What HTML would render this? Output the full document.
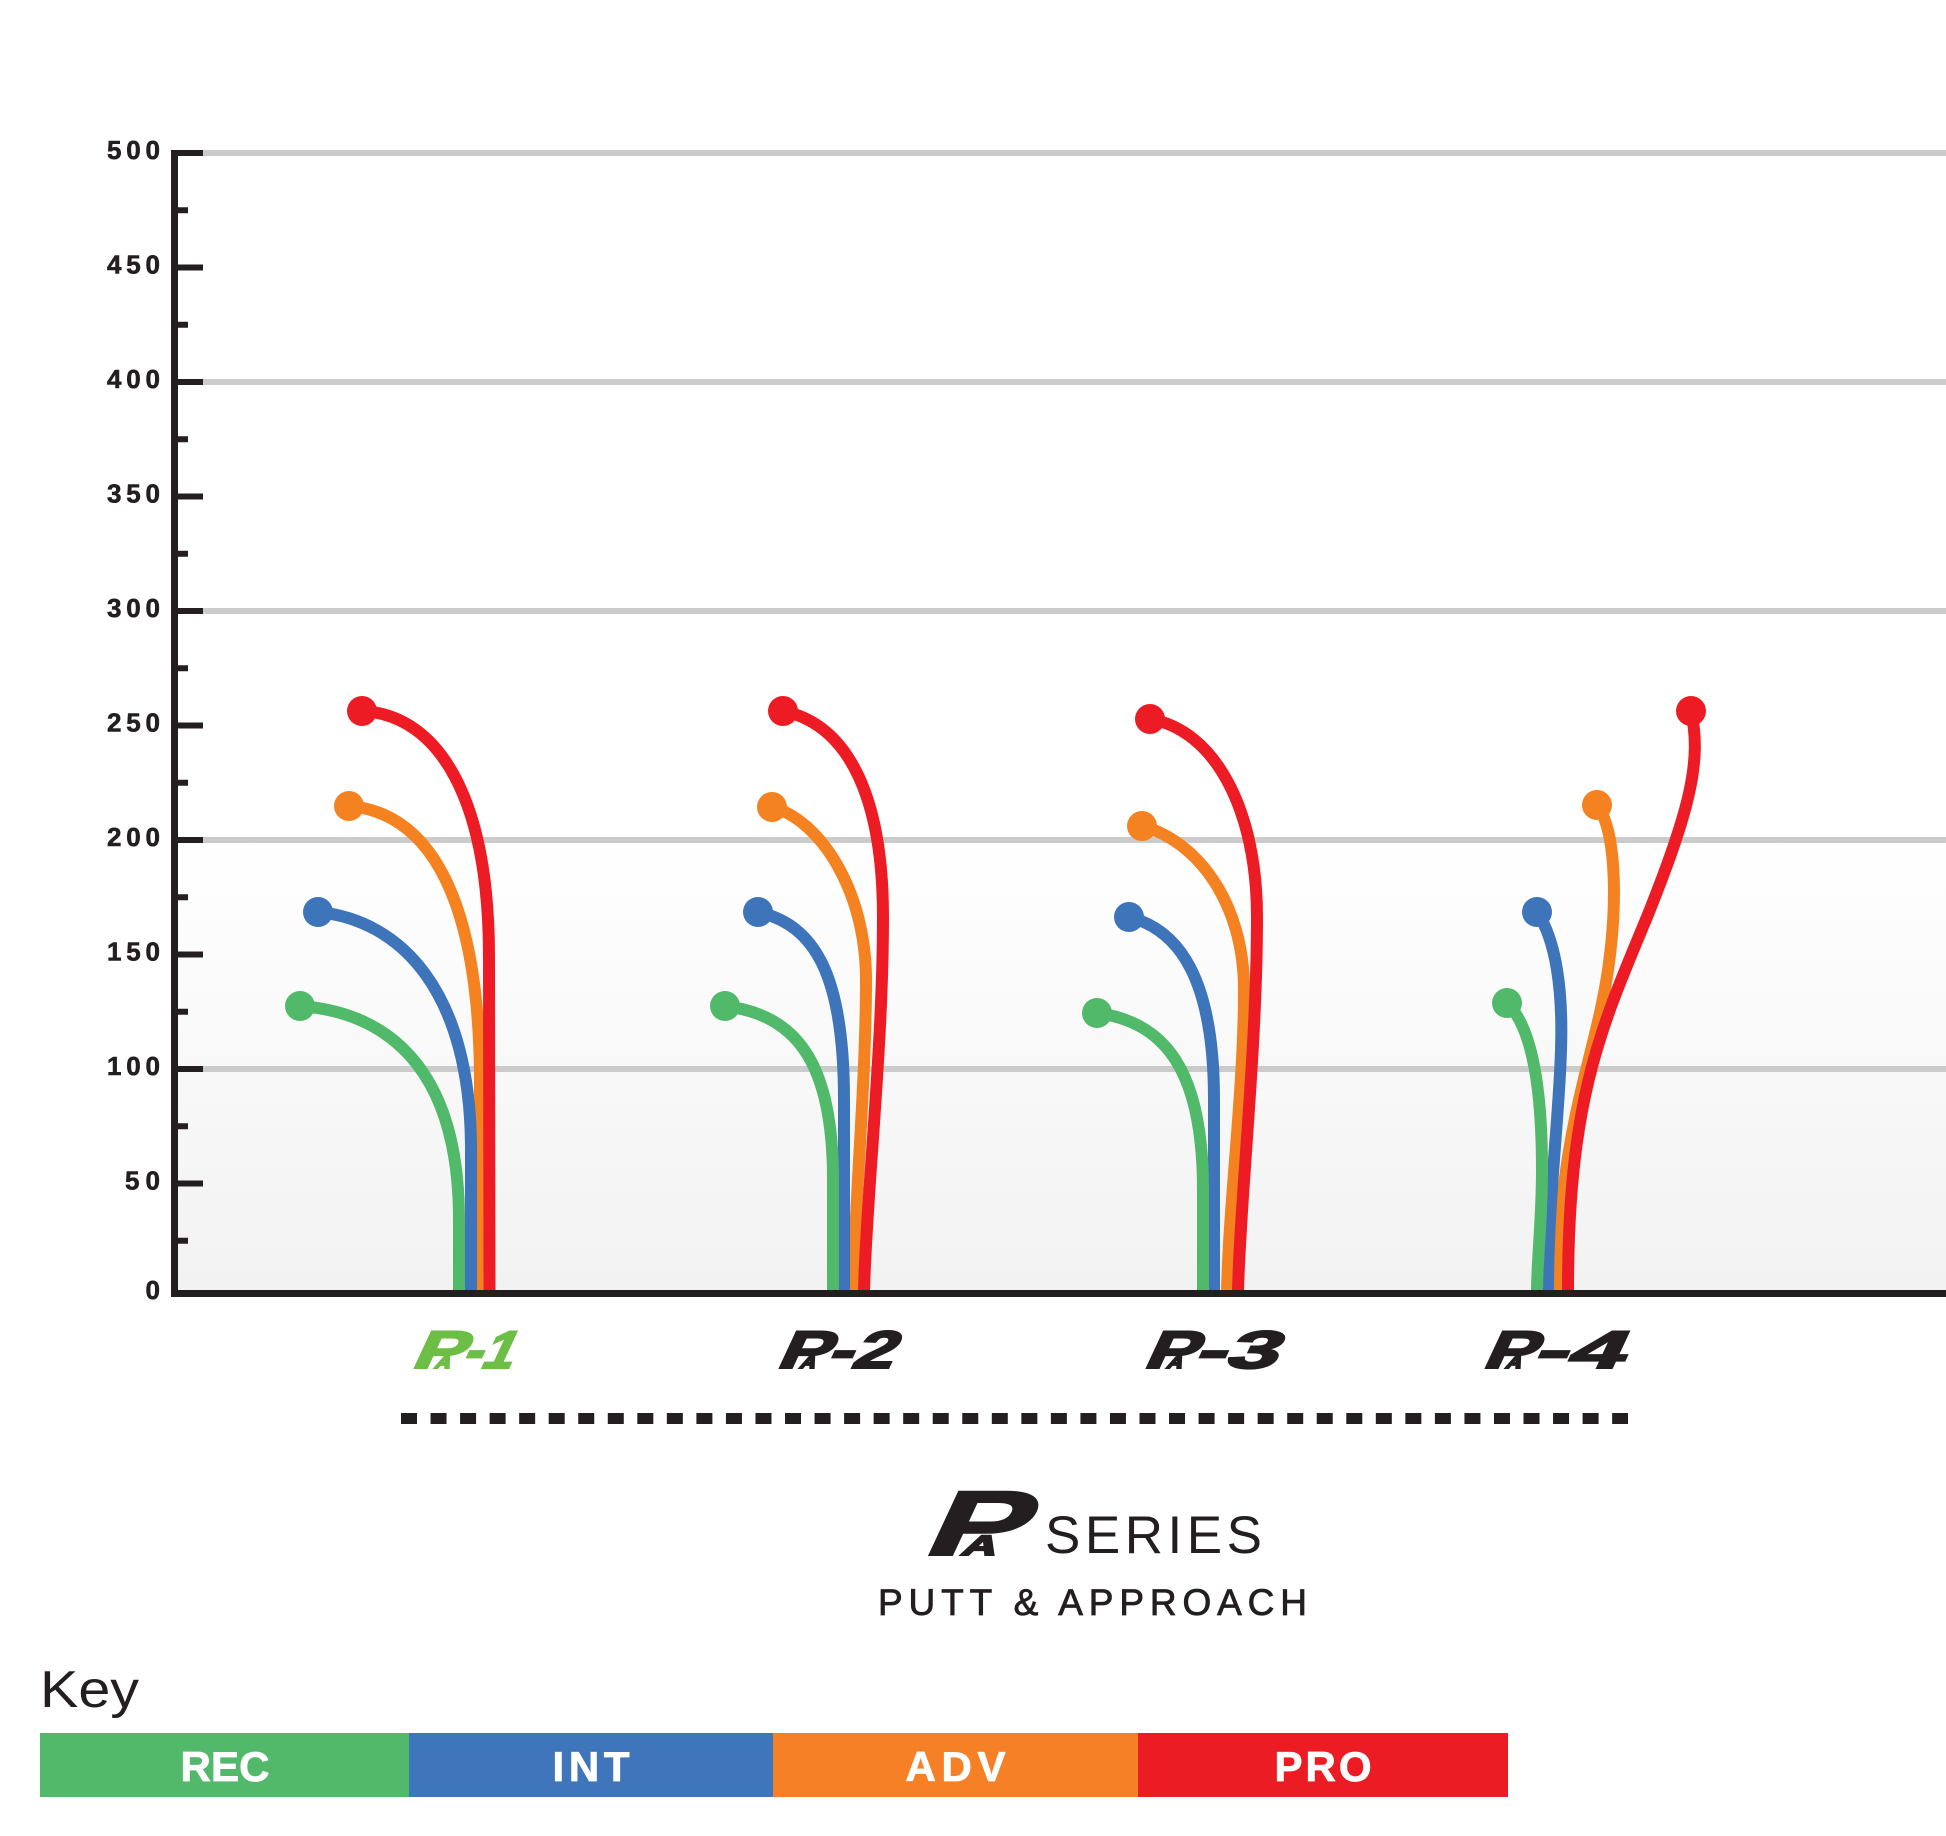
<!DOCTYPE html>
<html>
<head>
<meta charset="utf-8">
<style>
html,body{margin:0;padding:0;background:#fff;}
svg{display:block;}
</style>
</head>
<body>
<svg width="1946" height="1836" viewBox="0 0 1946 1836" xmlns="http://www.w3.org/2000/svg">
<defs>
<linearGradient id="bg" x1="0" y1="0" x2="0" y2="1">
<stop offset="0" stop-color="#ffffff"/>
<stop offset="0.6" stop-color="#ffffff"/>
<stop offset="1" stop-color="#f2f2f2"/>
</linearGradient>
</defs>
<rect x="0" y="0" width="1946" height="1836" fill="#fff"/>
<rect x="178" y="156" width="1768" height="1134" fill="url(#bg)"/>

<!-- gridlines -->
<g fill="#cbcbcb">
<rect x="203" y="150" width="1743" height="6"/>
<rect x="203" y="379" width="1743" height="6"/>
<rect x="203" y="608" width="1743" height="6"/>
<rect x="203" y="837" width="1743" height="6"/>
<rect x="203" y="1066" width="1743" height="6"/>
</g>

<!-- curves -->
<g fill="none" stroke-width="12" stroke-linecap="butt">
<!-- P1 -->
<path d="M349,806 C420,812 478,880 480,1075 L480,1292" stroke="#f58220"/>
<path d="M318,912 C400,920 471,990 471,1150 L471,1292" stroke="#3e75ba"/>
<path d="M300,1006 C380,1012 459,1060 459,1220 L459,1292" stroke="#51b96a"/>
<path d="M362,711 C440,715 489,800 489,957 L489.5,1292" stroke="#ed1c24"/>
<!-- P2 -->
<path d="M772,807 C820,820 866,890 866,980 C866,1080 855,1200 853,1292" stroke="#f58220"/>
<path d="M758,912 C815,925 844,975 844,1100 L844,1292" stroke="#3e75ba"/>
<path d="M725,1006 C795,1015 833,1060 833,1180 L833,1292" stroke="#51b96a"/>
<path d="M783,711 C850,725 883,800 883,917 C883,1050 866,1200 864,1292" stroke="#ed1c24"/>
<!-- P3 -->
<path d="M1142,826 C1195,840 1244,900 1244,990 C1244,1090 1229,1200 1227,1292" stroke="#f58220"/>
<path d="M1129,917 C1180,930 1214,980 1214,1100 L1214,1292" stroke="#3e75ba"/>
<path d="M1097,1013 C1165,1022 1203,1070 1203,1190 L1203,1292" stroke="#51b96a"/>
<path d="M1150,719 C1215,730 1257,810 1257,917 C1257,1050 1240,1200 1238,1292" stroke="#ed1c24"/>
<!-- P4 -->
<path d="M1597,805 C1616,830 1618,900 1608,970 C1595,1060 1558,1130 1558,1292" stroke="#f58220"/>
<path d="M1537,912 C1556,940 1563,990 1561,1050 C1559,1120 1548,1200 1548,1292" stroke="#3e75ba"/>
<path d="M1507,1003 C1530,1025 1542,1080 1542,1170 C1542,1220 1537,1260 1537,1292" stroke="#51b96a"/>
<path d="M1691,711 C1702,760 1690,810 1647,917 C1600,1030 1568,1100 1568,1292" stroke="#ed1c24"/>
</g>

<!-- dots -->
<g>
<circle cx="349" cy="806" r="15" fill="#f58220"/>
<circle cx="318" cy="912" r="15" fill="#3e75ba"/>
<circle cx="300" cy="1006" r="15" fill="#51b96a"/>
<circle cx="362" cy="711" r="15" fill="#ed1c24"/>
<circle cx="772" cy="807" r="15" fill="#f58220"/>
<circle cx="758" cy="912" r="15" fill="#3e75ba"/>
<circle cx="725" cy="1006" r="15" fill="#51b96a"/>
<circle cx="783" cy="711" r="15" fill="#ed1c24"/>
<circle cx="1142" cy="826" r="15" fill="#f58220"/>
<circle cx="1129" cy="917" r="15" fill="#3e75ba"/>
<circle cx="1097" cy="1013" r="15" fill="#51b96a"/>
<circle cx="1150" cy="719" r="15" fill="#ed1c24"/>
<circle cx="1597" cy="805" r="15" fill="#f58220"/>
<circle cx="1537" cy="912" r="15" fill="#3e75ba"/>
<circle cx="1507" cy="1003" r="15" fill="#51b96a"/>
<circle cx="1691" cy="711" r="15" fill="#ed1c24"/>
</g>

<!-- axes -->
<g fill="#231f20">
<rect x="171" y="150" width="7" height="1147"/>
<rect x="171" y="1290" width="1775" height="7"/>
<!-- major ticks -->
<rect x="171" y="150" width="32" height="6"/>
<rect x="171" y="264.5" width="32" height="6"/>
<rect x="171" y="379" width="32" height="6"/>
<rect x="171" y="493.5" width="32" height="6"/>
<rect x="171" y="608" width="32" height="6"/>
<rect x="171" y="722.5" width="32" height="6"/>
<rect x="171" y="837" width="32" height="6"/>
<rect x="171" y="951.5" width="32" height="6"/>
<rect x="171" y="1066" width="32" height="6"/>
<rect x="171" y="1180.5" width="32" height="6"/>
<!-- minor ticks -->
<rect x="171" y="207.25" width="17" height="6"/>
<rect x="171" y="321.75" width="17" height="6"/>
<rect x="171" y="436.25" width="17" height="6"/>
<rect x="171" y="550.75" width="17" height="6"/>
<rect x="171" y="665.25" width="17" height="6"/>
<rect x="171" y="779.75" width="17" height="6"/>
<rect x="171" y="894.25" width="17" height="6"/>
<rect x="171" y="1008.75" width="17" height="6"/>
<rect x="171" y="1123.25" width="17" height="6"/>
<rect x="171" y="1237.75" width="17" height="6"/>
</g>

<!-- y labels -->
<g font-family="Liberation Sans, sans-serif" font-weight="bold" font-size="26" fill="#231f20" stroke="#231f20" stroke-width="0.6" text-anchor="end">
<text x="160" y="159" textLength="53" lengthAdjust="spacing">500</text>
<text x="160" y="273.5" textLength="53" lengthAdjust="spacing">450</text>
<text x="160" y="388" textLength="53" lengthAdjust="spacing">400</text>
<text x="160" y="502.5" textLength="53" lengthAdjust="spacing">350</text>
<text x="160" y="617" textLength="53" lengthAdjust="spacing">300</text>
<text x="160" y="731.5" textLength="53" lengthAdjust="spacing">250</text>
<text x="160" y="846" textLength="53" lengthAdjust="spacing">200</text>
<text x="160" y="960.5" textLength="53" lengthAdjust="spacing">150</text>
<text x="160" y="1075" textLength="53" lengthAdjust="spacing">100</text>
<text x="160" y="1189.5" textLength="35" lengthAdjust="spacing">50</text>
<text x="160" y="1299">0</text>
</g>

<!-- product logos -->
<g font-family="Liberation Sans, sans-serif" font-weight="bold">
<g transform="translate(410,1368) skewX(-25)" fill="#6cbe45" stroke="#6cbe45" stroke-width="2">
<text x="0" y="0" font-size="53" textLength="52" lengthAdjust="spacingAndGlyphs">P</text>
<text x="24" y="0" font-size="18" textLength="15" lengthAdjust="spacingAndGlyphs">A</text>
<text x="50" y="0" font-size="53" textLength="50" lengthAdjust="spacingAndGlyphs">-1</text>
</g>
<g transform="translate(775,1368) skewX(-25)" fill="#231f20" stroke="#231f20" stroke-width="2">
<text x="0" y="0" font-size="53" textLength="52" lengthAdjust="spacingAndGlyphs">P</text>
<text x="24" y="0" font-size="18" textLength="15" lengthAdjust="spacingAndGlyphs">A</text>
<text x="50" y="0" font-size="53" textLength="66" lengthAdjust="spacingAndGlyphs">-2</text>
</g>
<g transform="translate(1142,1368) skewX(-25)" fill="#231f20" stroke="#231f20" stroke-width="2">
<text x="0" y="0" font-size="53" textLength="52" lengthAdjust="spacingAndGlyphs">P</text>
<text x="24" y="0" font-size="18" textLength="15" lengthAdjust="spacingAndGlyphs">A</text>
<text x="50" y="0" font-size="53" textLength="83" lengthAdjust="spacingAndGlyphs">-3</text>
</g>
<g transform="translate(1481,1368) skewX(-25)" fill="#231f20" stroke="#231f20" stroke-width="2">
<text x="0" y="0" font-size="53" textLength="52" lengthAdjust="spacingAndGlyphs">P</text>
<text x="24" y="0" font-size="18" textLength="15" lengthAdjust="spacingAndGlyphs">A</text>
<text x="50" y="0" font-size="53" textLength="90" lengthAdjust="spacingAndGlyphs">-4</text>
</g>
</g>

<!-- dashed line -->
<line x1="401" y1="1418.5" x2="1628" y2="1418.5" stroke="#231f20" stroke-width="11" stroke-dasharray="16 13.54"/>

<!-- series logo -->
<g transform="translate(920,1555) skewX(-25)" fill="#231f20" font-family="Liberation Sans, sans-serif" font-weight="bold" stroke="#231f20" stroke-width="2">
<text x="0" y="0" font-size="92" textLength="100" lengthAdjust="spacingAndGlyphs">P</text>
<text x="40" y="0" font-size="28" textLength="34" lengthAdjust="spacingAndGlyphs">A</text>
</g>
<text x="1045" y="1553" font-family="Liberation Sans, sans-serif" font-size="53" fill="#231f20" textLength="217" lengthAdjust="spacing">SERIES</text>
<text x="878" y="1615" font-family="Liberation Sans, sans-serif" font-size="37" fill="#231f20" stroke="#231f20" stroke-width="0.8" textLength="429" lengthAdjust="spacing">PUTT &amp; APPROACH</text>

<!-- key -->
<text x="40" y="1707" font-family="Liberation Sans, sans-serif" font-size="52" fill="#231f20" textLength="99" lengthAdjust="spacingAndGlyphs">Key</text>
<rect x="40" y="1733" width="369" height="64" fill="#52b96a"/>
<rect x="409" y="1733" width="364" height="64" fill="#3f76bb"/>
<rect x="773" y="1733" width="365" height="64" fill="#f58025"/>
<rect x="1138" y="1733" width="370" height="64" fill="#ec1c24"/>
<g font-family="Liberation Sans, sans-serif" font-weight="bold" font-size="42" fill="#ffffff" stroke="#ffffff" stroke-width="0.8" text-anchor="middle">
<text x="225" y="1781" textLength="89" lengthAdjust="spacing">REC</text>
<text x="591" y="1781" textLength="77" lengthAdjust="spacing">INT</text>
<text x="955.5" y="1781" textLength="100" lengthAdjust="spacing">ADV</text>
<text x="1323" y="1781" textLength="97" lengthAdjust="spacing">PRO</text>
</g>
</svg>
</body>
</html>
